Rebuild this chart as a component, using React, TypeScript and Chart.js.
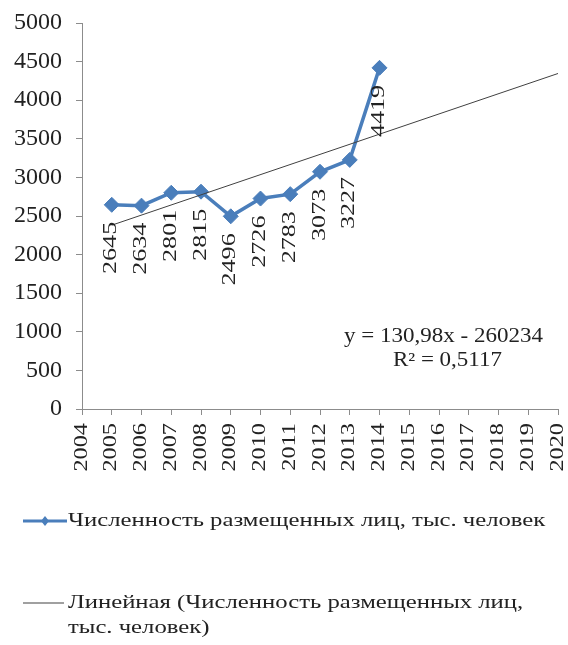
import { useEffect, useRef } from "react";
import { Chart, registerables } from "chart.js";

Chart.register(...registerables);

// ---- data ----
const years = [2005, 2006, 2007, 2008, 2009, 2010, 2011, 2012, 2013, 2014];
const values = [2645, 2634, 2801, 2815, 2496, 2726, 2783, 3073, 3227, 4419];
const trendYears = [2005, 2020];
const trendValues = [2381, 4346];
const xMin = 2004;
const xMax = 2020;
const yMin = 0;
const yMax = 5000;
const yStep = 500;
const seriesLabel = "Численность размещенных лиц, тыс. человек";
const trendLabel = "Линейная (Численность размещенных лиц, тыс. человек)";
const trendLegendLines = ["Линейная (Численность размещенных лиц,", "тыс. человек)"];
const equationLines = ["y = 130,98x - 260234", "R² = 0,5117"];

const SERIES_COLOR = "#4A7EBB";
const TREND_COLOR = "#404040";
const TEXT_COLOR = "#222222";
const AXIS_COLOR = "#8c8c8c";
const FONT = "'Liberation Serif', 'Times New Roman', serif";

function drawText(
  ctx: CanvasRenderingContext2D,
  text: string,
  x: number,
  y: number,
  rot: number,
  sx: number,
  align: CanvasTextAlign
) {
  ctx.save();
  ctx.translate(x, y);
  ctx.rotate(rot);
  ctx.scale(sx, 1);
  ctx.textAlign = align;
  ctx.textBaseline = "middle";
  ctx.fillText(text, 0, 0);
  ctx.restore();
}

const dataLabelPlugin = {
  id: "dataLabelPlugin",
  afterDatasetsDraw(chart: any) {
    const ctx = chart.ctx;
    const meta = chart.getDatasetMeta(1);
    ctx.save();
    ctx.font = `18px ${FONT}`;
    ctx.fillStyle = TEXT_COLOR;
    meta.data.forEach((pt: any, i: number) => {
      drawText(ctx, String(values[i]), pt.x, pt.y + 17, -Math.PI / 2, 1.45, "right");
    });
    ctx.restore();
  },
};

const xLabelPlugin = {
  id: "xLabelPlugin",
  afterDraw(chart: any) {
    const ctx = chart.ctx;
    const xs = chart.scales.x;
    ctx.save();
    ctx.font = `18px ${FONT}`;
    ctx.fillStyle = TEXT_COLOR;
    xs.ticks.forEach((t: any) => {
      const x = xs.getPixelForValue(t.value);
      drawText(ctx, String(t.value), x, chart.chartArea.bottom + 14, -Math.PI / 2, 1.35, "right");
    });
    ctx.restore();
  },
};

const equationPlugin = {
  id: "equationPlugin",
  afterDraw(chart: any) {
    const ctx = chart.ctx;
    const xs = chart.scales.x;
    const ys = chart.scales.y;
    const cx = xs.getPixelForValue(2016.15);
    const y0 = ys.getPixelForValue(930);
    ctx.save();
    ctx.font = `20px ${FONT}`;
    ctx.fillStyle = TEXT_COLOR;
    drawText(ctx, equationLines[0], cx, y0, 0, 1.15, "center");
    drawText(ctx, equationLines[1], cx + 4, y0 + 24, 0, 1.15, "center");
    ctx.restore();
  },
};

const legendPlugin = {
  id: "customLegend",
  afterDraw(chart: any) {
    const ctx = chart.ctx;
    const top = chart.chartArea.bottom;
    ctx.save();
    // item 1
    const y1 = top + 112;
    ctx.strokeStyle = SERIES_COLOR;
    ctx.lineWidth = 3;
    ctx.beginPath();
    ctx.moveTo(23, y1);
    ctx.lineTo(67, y1);
    ctx.stroke();
    ctx.fillStyle = SERIES_COLOR;
    ctx.beginPath();
    ctx.moveTo(45, y1 - 5);
    ctx.lineTo(49, y1);
    ctx.lineTo(45, y1 + 5);
    ctx.lineTo(41, y1);
    ctx.closePath();
    ctx.fill();
    ctx.font = `19px ${FONT}`;
    ctx.fillStyle = TEXT_COLOR;
    drawText(ctx, seriesLabel, 68, y1, 0, 1.3, "left");
    // item 2
    const y2 = top + 194;
    ctx.strokeStyle = "#a0a0a0";
    ctx.lineWidth = 2;
    ctx.beginPath();
    ctx.moveTo(23, y2);
    ctx.lineTo(64, y2);
    ctx.stroke();
    ctx.fillStyle = TEXT_COLOR;
    drawText(ctx, trendLegendLines[0], 68, y2, 0, 1.3, "left");
    drawText(ctx, trendLegendLines[1], 68, y2 + 25, 0, 1.3, "left");
    ctx.restore();
  },
};

export default function App() {
  const canvasRef = useRef<HTMLCanvasElement | null>(null);

  useEffect(() => {
    document.body.style.margin = "0";
    const canvas = canvasRef.current;
    if (!canvas) return;
    const chart = new Chart(canvas, {
      type: "line",
      data: {
        datasets: [
          {
            label: trendLabel,
            data: trendYears.map((x, i) => ({ x, y: trendValues[i] })),
            borderColor: TREND_COLOR,
            borderWidth: 1,
            pointRadius: 0,
            fill: false,
            order: -1,
          },
          {
            label: seriesLabel,
            data: years.map((x, i) => ({ x, y: values[i] })),
            borderColor: SERIES_COLOR,
            backgroundColor: SERIES_COLOR,
            borderWidth: 3.5,
            pointStyle: "rectRot",
            pointRadius: 7.5,
            pointBackgroundColor: SERIES_COLOR,
            pointBorderColor: SERIES_COLOR,
            pointBorderWidth: 1,
            fill: false,
            tension: 0,
            order: 0,
          },
        ],
      },
      options: {
        responsive: false,
        animation: false,
        devicePixelRatio: 1,
        layout: { padding: { top: 23, right: 10, left: 0, bottom: 0 } },
        plugins: {
          legend: { display: false },
          tooltip: { enabled: false },
        },
        scales: {
          x: {
            type: "linear",
            min: xMin,
            max: xMax,
            afterFit(scale: any) {
              scale.height = 236;
              scale.paddingLeft = 0;
              scale.paddingRight = 0;
            },
            ticks: {
              stepSize: 1,
              autoSkip: false,
              display: false,
            },
            grid: {
              display: true,
              drawOnChartArea: false,
              drawTicks: true,
              tickLength: 6,
              color: AXIS_COLOR,
            },
            border: { display: true, color: AXIS_COLOR, width: 1 },
          },
          y: {
            type: "linear",
            min: yMin,
            max: yMax,
            afterFit(scale: any) {
              scale.width = 82;
              scale.paddingTop = 0;
              scale.paddingBottom = 0;
            },
            ticks: {
              stepSize: yStep,
              padding: 14,
              color: TEXT_COLOR,
              font: { family: FONT, size: 24 },
              callback: (v: any) => String(v),
            },
            grid: {
              display: true,
              drawOnChartArea: false,
              drawTicks: true,
              tickLength: 6,
              color: AXIS_COLOR,
            },
            border: { display: true, color: AXIS_COLOR, width: 1 },
          },
        },
      },
      plugins: [dataLabelPlugin, xLabelPlugin, equationPlugin, legendPlugin],
    } as any);
    return () => chart.destroy();
  }, []);

  return (
    <canvas
      ref={canvasRef}
      width={568}
      height={645}
      style={{ display: "block", width: "568px", height: "645px" }}
    />
  );
}
